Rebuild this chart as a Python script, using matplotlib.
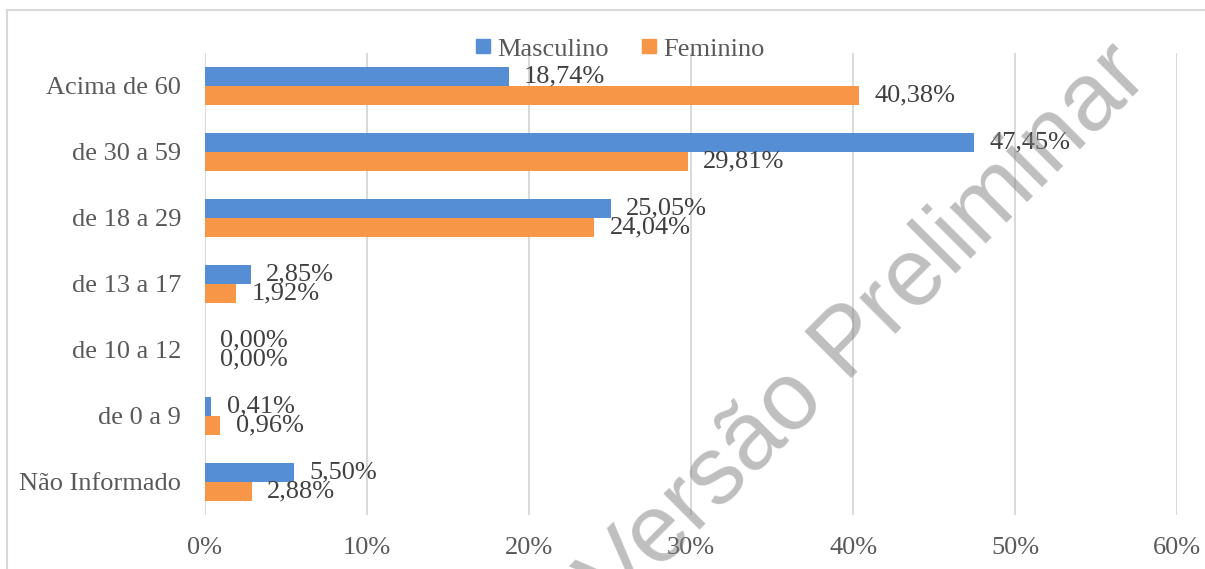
import matplotlib.pyplot as plt
import numpy as np
from matplotlib.patches import Rectangle

categories = ["Não Informado", "de 0 a 9", "de 10 a 12", "de 13 a 17",
              "de 18 a 29", "de 30 a 59", "Acima de 60"]
masculino = [5.50, 0.41, 0.00, 2.85, 25.05, 47.45, 18.74]
feminino = [2.88, 0.96, 0.00, 1.92, 24.04, 29.81, 40.38]
xticks = [0, 10, 20, 30, 40, 50, 60]

blue = "#558ed5"
orange = "#f79646"

plt.rcParams["font.family"] = ["Liberation Serif", "DejaVu Serif"]

fig = plt.figure(figsize=(12.05, 5.69), dpi=100)
ax = fig.add_axes([0.170, 0.095, 0.807, 0.812])

y = np.arange(len(categories))
h = 0.288
bars_m = ax.barh(y + h / 2, masculino, height=h, color=blue, label="Masculino", zorder=3)
bars_f = ax.barh(y - h / 2, feminino, height=h, color=orange, label="Feminino", zorder=3)

def fmt(v):
    return f"{v:.2f}%".replace(".", ",")

for bars, vals in ((bars_m, masculino), (bars_f, feminino)):
    for b, v in zip(bars, vals):
        ax.annotate(fmt(v), (v, b.get_y() + b.get_height() / 2),
                    xytext=(11, 0), textcoords="offset points",
                    ha="left", va="center", fontsize=19, color="#404040", zorder=4)

ax.set_xlim(0, 60)
ax.set_ylim(-0.5, len(categories) - 0.5)
ax.set_xticks(xticks)
ax.set_xticklabels([f"{t}%" for t in xticks])
ax.set_yticks(y)
ax.set_yticklabels(categories)
ax.tick_params(axis="both", length=0, labelsize=19, labelcolor="#595959")
ax.tick_params(axis="x", pad=16)
ax.tick_params(axis="y", pad=17)
ax.grid(axis="x", color="#d9d9d9", linewidth=1.4, zorder=0)
for s in ax.spines.values():
    s.set_visible(False)

handles = [plt.Line2D([], [], marker="s", linestyle="none", markersize=9.5, color=blue),
           plt.Line2D([], [], marker="s", linestyle="none", markersize=9.5, color=orange)]
fig.legend(handles, ["Masculino", "Feminino"], loc="center",
           bbox_to_anchor=(620 / 1205, 1 - 49 / 569), ncol=2, frameon=False,
           fontsize=19, labelcolor="#595959", handlelength=0.6, handletextpad=0.25,
           columnspacing=1.2, borderaxespad=0)

# chart border
fig.patches.append(Rectangle((7 / 1205, -0.02), 1.02, 1.02 - 10 / 569,
                             transform=fig.transFigure, fill=False,
                             edgecolor="#d9d9d9", linewidth=1.5))

# watermark
fig.text(866 / 1205, 1 - 328 / 569, "Versão Preliminar", family="Liberation Sans",
         fontsize=69, color="gray", alpha=0.5, rotation=45,
         rotation_mode="anchor", ha="center", va="center", zorder=10)

fig.savefig("out.png", dpi=100)
